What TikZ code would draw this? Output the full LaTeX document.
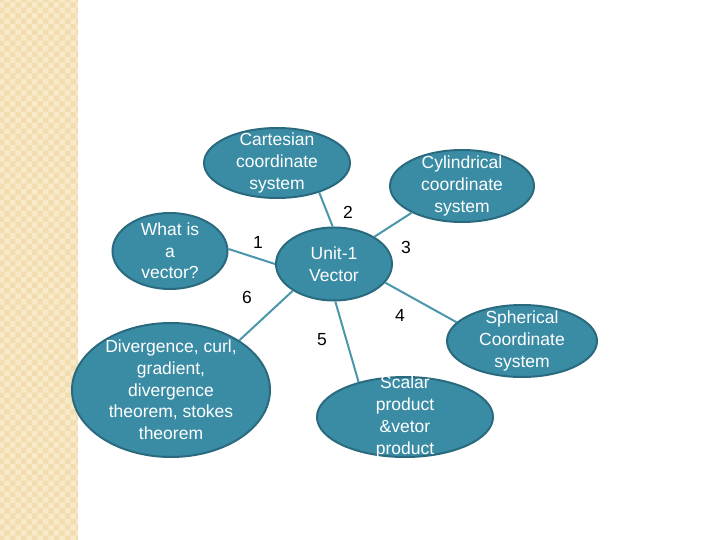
\documentclass[tikz,border=0pt]{standalone}
\usepackage{fontspec}
\setmainfont{Liberation Sans}
\usetikzlibrary{shapes.geometric, patterns}

\definecolor{stripbeige}{RGB}{248,234,200}
\definecolor{stripdots}{RGB}{241,221,176}
\definecolor{bubblefill}{RGB}{58,140,165}
\definecolor{bubbleborder}{RGB}{42,106,126}
\definecolor{linkteal}{RGB}{74,150,170}

\tikzset{
    bubble/.style={ellipse, draw=bubbleborder, fill=bubblefill, line width=2pt, inner sep=0pt},
    btext/.style={text=white, align=center, inner sep=0pt, font=\fontsize{17.5}{21.7}\selectfont},
    link/.style={draw=linkteal, line width=2pt},
    numtag/.style={text=black, inner sep=0pt, font=\fontsize{17.5}{21.7}\selectfont}
}

\begin{document}
\begin{tikzpicture}[x=1pt, y=-1pt]
    \useasboundingbox (0,0) rectangle (720,540);

    % 1. FRANJA ESQUERRA
    \fill[stripbeige] (0,0) rectangle (78,540);
    \fill[pattern=checkerboard, pattern color=stripdots] (0,0) rectangle (78,540);

    % 2. BOMBOLLES
    \node[bubble, minimum width=146, minimum height=70, label={[btext]center:Cartesian\\coordinate\\system}] (cart) at (277,163) {};
    \node[bubble, minimum width=144, minimum height=72, label={[btext]center:Cylindrical\\coordinate\\system}] (cyl) at (462,186) {};
    \node[bubble, minimum width=115, minimum height=76, label={[btext]center:What is\\a\\vector?}] (what) at (170,251) {};
    \node[bubble, minimum width=116, minimum height=73, label={[btext]center:Unit-1\\Vector}] (unit) at (334,264) {};
    \node[bubble, minimum width=198, minimum height=134, label={[btext]center:{Divergence, curl,\\gradient,\\divergence\\theorem, stokes\\theorem}}] (div) at (171,390) {};
    \node[bubble, minimum width=176, minimum height=80, label={[btext]center:Scalar\\product\\\&vetor\\product}] (scal) at (405,417) {};
    \node[bubble, minimum width=150, minimum height=72, label={[btext]center:Spherical\\Coordinate\\system}] (sph) at (522,341) {};

    % 3. CONNEXIONS
    \foreach \a/\b in {unit.180/what.2, unit.92/cart.-35, unit.34/cyl.-152,
        unit.-20/sph.164, unit.-88/scal.143, unit.-147/div.36} {
        \draw[link] (\a) -- (\b);
    }

    % 4. NUMEROS
    \foreach \n/\x/\y in {1/258/242, 2/348/212, 3/406/247, 4/400/315, 5/322/340, 6/247/297} {
        \node[numtag] (num\n) at (\x,\y) {\n};
    }

\end{tikzpicture}
\end{document}
